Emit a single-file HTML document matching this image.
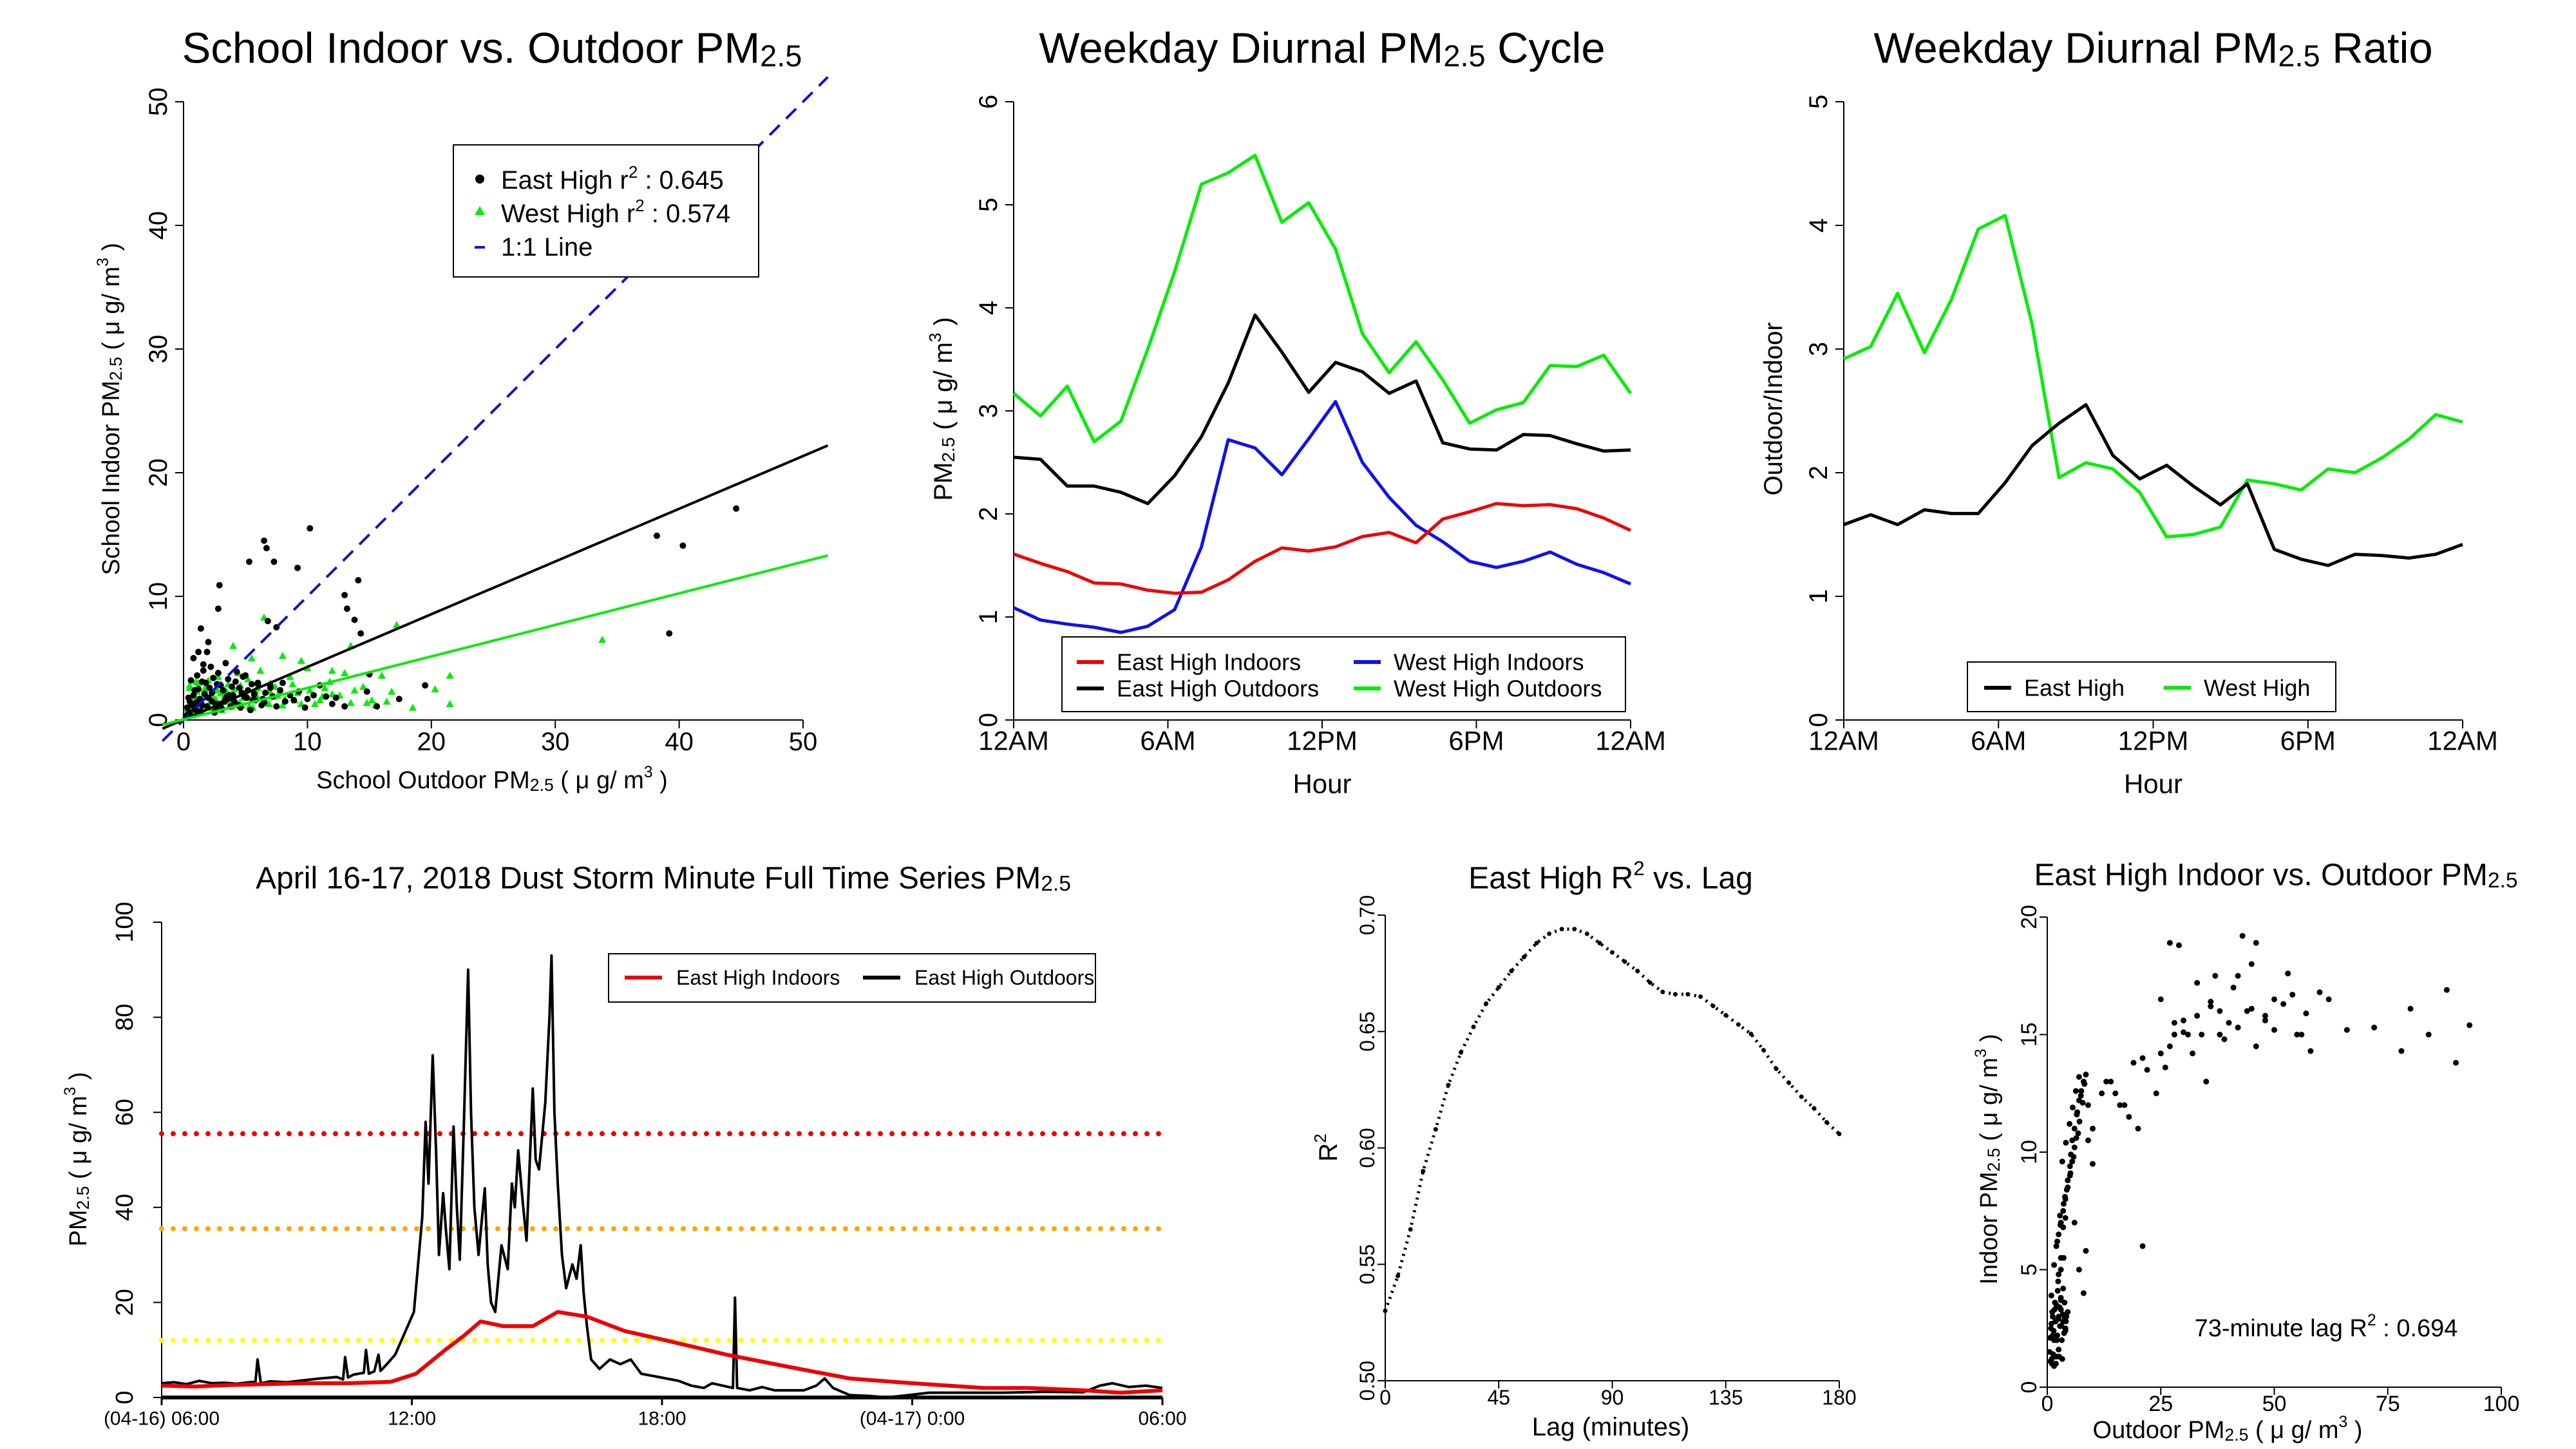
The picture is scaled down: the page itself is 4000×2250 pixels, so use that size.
<!DOCTYPE html>
<html><head><meta charset="utf-8"><style>
html,body{margin:0;padding:0;background:#fff}
svg{display:block}
text{font-family:"Liberation Sans",sans-serif;fill:#000}
.n{font-family:"Liberation Sans Narrow","Liberation Sans",sans-serif}
</style></head><body>
<svg id="s" xmlns="http://www.w3.org/2000/svg" width="4000" height="2250" viewBox="0 0 4000 2250">
<rect width="4000" height="2250" fill="#fff"/>
</svg>
<script>
// ---------- DATA ----------
const p1EastX=[0.3,0.5,0.8,1,1.2,1.5,1.8,2,2.3,2.6,3,3.3,3.6,4,4.4,4.8,5.2,5.6,6,6.5,7,7.5,8,8.6,9.3,10,11,12,0.6,1.1,1.6,2.2,2.8,3.4,4.2,5,6,7,0.4,0.9,1.4,2.5,3.1,3.8,4.6,5.4,6.3,8.2,9.8,11.5,13,15,15.6,5.3,6.5,6.7,7.3,9.2,10.2,2.9,2.8,13,13.2,13.8,14.1,14.3,38.2,40.3,44.6,39.2,19.5,17.4,1.4,2,1.9,1.2,6.8,7.5,0.8,1.6,
 0.2,0.5,0.7,1.3,1.7,2.1,2.4,2.7,3.2,3.5,3.9,4.3,4.7,5.1,5.8,6.6,7.2,0.9,1.5,2.3,3.0,3.7,4.5,5.5,0.4,1.0,1.9,2.6,3.4,4.1,4.9,5.7,6.4,7.8,8.9,10.5,12.3,14.8];
const p1EastY=[1,1.5,2,0.8,2.5,1.2,3,1.8,2.2,1,2.8,1.5,3.3,2,1.2,3.5,2.4,1.6,2.9,1.4,2.6,1.1,3,2,2.3,1.7,2.8,1.3,3.2,3.6,4,4.3,3.8,4.6,3.1,3.6,3,2.8,0.5,0.9,0.7,0.6,0.9,1.1,1,0.8,1.2,1.5,1,1.9,1.1,3.7,1.1,12.8,14.5,13.9,12.8,12.3,15.5,10.9,9,10.1,9,8.1,11.3,7,14.9,14.1,17.1,7,2.8,1.7,7.4,6.3,5.5,5.5,8,7.5,5,4.5,
 0.3,0.6,1.2,1.7,2.1,2.6,3.4,2.9,2.4,1.9,2.7,3.9,2.2,1.8,1.6,2.2,1.9,2.4,3.1,1.5,1.3,2.0,2.6,2.9,1.8,1.4,1.1,1.3,1.7,1.5,1.9,2.1,1.7,2.4,1.6,2.0,1.8,2.3];
const p1WestX=[0.2,0.4,0.7,1,1.3,1.6,1.9,2.2,2.5,2.9,3.3,3.7,4.1,4.5,5,5.5,6,6.5,7,7.6,8.2,8.8,9.5,10.2,11,11.8,12.6,13.5,14.5,15.5,16.4,0.5,1.2,2,2.8,3.6,4.4,5.2,6.2,7.4,8.6,10,11.4,13,14.8,33.8,21.5,21.5,18.5,17.2,6.5,20.3,13.5,4,5.5,8,9.5,12,16,
 0.3,0.6,0.9,1.1,1.4,1.7,2.0,2.3,2.6,3.0,3.4,3.8,4.2,4.8,5.3,5.9,6.7,7.3,8.0,9.0,10.6,12.0,0.8,1.5,2.4,3.1,3.9,4.7,5.6,6.9,0.5,1.0,1.8,2.7,3.5,4.6,5.8,7.0,9.2,11.2,13.8,15.2,16.8];
const p1WestY=[0.5,1,0.8,1.5,1.2,2,1,1.8,2.4,1.3,2,1.6,2.5,1.4,2.2,1.8,2.6,1.5,2.3,2,1.7,2.9,1.3,2.4,1.6,3.1,2,1.4,2.7,1.2,1.5,2.6,3,3.2,3.5,2.9,3.8,3.3,4,2.7,3.5,4.2,2.6,3.8,1.4,6.5,3.6,1.3,1,7.7,8.3,2.5,6,6,5,5.2,4.8,4,3.6,
 0.9,1.4,1.9,2.3,1.6,2.5,1.2,2.0,1.7,2.2,1.5,1.9,1.3,1.8,1.1,2.0,1.4,1.9,1.2,1.6,1.3,2.1,0.6,0.9,1.0,0.8,1.1,1.2,1.0,1.3,2.8,3.1,2.7,2.5,2.3,2.8,2.4,3.0,2.2,1.9,2.4,1.6,2.3];

const hours=[0,1,2,3,4,5,6,7,8,9,10,11,12,13,14,15,16,17,18,19,20,21,22,23];
const ehIn =[1.61,1.52,1.44,1.33,1.32,1.26,1.23,1.24,1.36,1.54,1.67,1.64,1.68,1.78,1.82,1.72,1.95,2.02,2.10,2.08,2.09,2.05,1.96,1.84];
const ehOut=[2.55,2.53,2.27,2.27,2.21,2.10,2.37,2.75,3.27,3.93,3.57,3.18,3.47,3.38,3.17,3.29,2.69,2.63,2.62,2.77,2.76,2.68,2.61,2.62];
const whIn =[1.09,0.97,0.93,0.90,0.85,0.91,1.07,1.68,2.72,2.64,2.38,2.73,3.09,2.50,2.16,1.89,1.73,1.54,1.48,1.54,1.63,1.51,1.43,1.32];
const whOut=[3.17,2.95,3.24,2.70,2.90,3.60,4.35,5.20,5.31,5.48,4.83,5.02,4.57,3.75,3.37,3.67,3.30,2.88,3.01,3.08,3.44,3.43,3.54,3.17];
const ratioEast=[1.58,1.66,1.58,1.70,1.67,1.67,1.92,2.22,2.40,2.55,2.14,1.95,2.06,1.89,1.74,1.91,1.38,1.30,1.25,1.34,1.33,1.31,1.34,1.42];
const ratioWest=[2.92,3.02,3.45,2.97,3.40,3.97,4.08,3.20,1.96,2.08,2.03,1.84,1.48,1.50,1.56,1.94,1.91,1.86,2.03,2.00,2.12,2.27,2.47,2.41];

// hours since 04-16 06:00
const tsOutT=[0,0.3,0.6,0.9,1.2,1.5,1.8,2.1,2.25,2.3,2.38,2.6,3.0,3.4,3.8,4.2,4.35,4.4,4.47,4.6,4.85,4.9,4.97,5.1,5.2,5.25,5.4,5.6,5.75,5.9,6.05,6.15,6.25,6.33,6.4,6.5,6.58,6.65,6.75,6.82,6.9,7.0,7.08,7.15,7.25,7.35,7.42,7.5,7.6,7.75,7.82,7.9,8.0,8.15,8.3,8.4,8.47,8.55,8.65,8.75,8.9,8.97,9.05,9.2,9.3,9.35,9.42,9.5,9.6,9.7,9.85,9.95,10.05,10.12,10.2,10.3,10.5,10.75,11.0,11.25,11.5,11.8,12.1,12.4,12.7,13.0,13.2,13.45,13.7,13.75,13.8,14.1,14.4,14.7,15.0,15.4,15.7,15.9,16.1,16.5,17.0,17.4,17.9,18.4,19.3,20.2,21.2,22.1,22.5,22.8,23.2,23.6,24];
const tsOutV=[3,3.2,2.8,3.5,3,3.1,2.9,3.2,3.3,8,3,3.4,3.2,3.6,4,4.3,3.8,8.5,4.2,4.8,5.2,10,5,5.5,9,5.6,7,9,12,15,18,28,38,58,45,72,52,30,43,35,27,57,40,29,58,90,60,40,30,44,28,20,18,32,27,45,40,52,42,33,65,50,48,62,80,93,60,45,30,23,28,25,32,22,15,8,6,8,7,8,5,4.5,4,3.5,2.5,2,3,2.5,2,21,2,1.5,2.2,1.5,1.5,1.5,2.5,4,2,0.5,0.3,0,0.5,1,1,1,1.2,1.1,2.5,3,2.2,2.5,2];
const tsInT=[0,0.8,1.6,2.5,3.5,4.5,5.5,6.1,6.8,7.25,7.65,8.2,8.9,9.5,10.2,11.1,12.1,13.55,15,16.5,18,19.7,20.8,22.1,23,24];
const tsInV=[2.5,2.3,2.6,2.8,3,3,3.3,5,10,13,16,15,15,18,17,14,12,9,6.5,4,3,2,2,1.5,1,1.5];
const aqiLevels=[55.5,35.5,12];

const lagMin=[0,5,10,15,20,25,30,35,40,45,50,55,60,65,70,75,80,85,90,95,100,105,110,115,120,125,130,135,140,145,150,155,160,165,170,175,180];
const lagR2=[0.530,0.545,0.565,0.590,0.608,0.627,0.641,0.652,0.662,0.669,0.676,0.682,0.688,0.692,0.694,0.694,0.692,0.688,0.684,0.680,0.676,0.671,0.667,0.666,0.666,0.665,0.661,0.657,0.653,0.649,0.642,0.634,0.628,0.622,0.617,0.611,0.606];

const scOutX=[0.5,0.8,1.0,1.2,1.5,1.8,2.0,2.2,2.5,2.8, 3.0,3.2,3.5,3.8,4.0,4.2,4.5,1.0,1.5,2.0, 2.5,3.0,3.5,4.0,1.2,1.8,2.4,3.0,3.6,2.0, 2.5,3.0,3.5,4.0,4.5,5.0,5.5,6.0,2.5,3.0,
 3.5,4.0,4.5,5.0,5.5,6.0,6.5,7.0,7.5,8.0, 8.5,9.0,6.0,7.0,8.0,9.0,10,12,14,16, 18,20,22,10,13,15,17,19,21,24, 25,26,27,28,30,32,34,36,38,40,
 42,44,46,48,50,52,55,58,60,25, 28,31,35,38,41,45,50,56,62,66, 72,78,80,84,88,90,93,27,29,33, 37,43,46,53,21,0.6,0.9,1.1,1.4,1.7,
 2.1,2.4,2.7,3.1,3.4,3.7,4.1,0.7,1.3,1.9, 2.6,3.3,0.9,1.6,2.3,3.0,3.8,1.5,2.2,2.9, 3.6,4.3,5.1,5.8,6.4,7.1,7.8,3.3,4.1,4.9, 5.6,6.3,7.0,2.8,3.9,5.2,6.6,8.2,6.8,7.4, 30,33,36,39,42,45,48,54,57,8.5];
const scOutY=[1.5,2.5,1.0,3.0,2.0,2.8,3.5,2.2,3.0,2.6, 3.3,2.0,2.8,3.6,2.4,3.0,3.2,1.2,0.9,1.3, 1.6,3.8,4.2,2.5,2.2,2.8,4.5,5.0,5.5,6.0, 6.5,7.0,7.5,8.0,8.5,9.0,9.6,10.2,4.8,5.5,
 6.8,7.2,8.8,9.4,10.5,11.0,11.6,12.2,12.6,13.0, 13.3,10.5,7.0,5.0,4.0,12.0,11.0,12.5,13.0,12.0, 11.5,11.0,13.5,9.5,13.0,12.5,12.0,13.8,14.0,12.5, 14.2,13.6,14.5,15.0,15.6,14.2,15.0,16.2,15.0,15.5,
 17.5,16.0,14.5,15.8,15.2,16.3,15.0,14.3,16.8,16.5, 15.5,15.0,13.0,16.0,17.0,18.0,16.5,15.0,16.5,15.2, 15.3,14.3,16.1,15.0,16.9,13.8,15.4,18.9,18.8,17.2, 17.5,19.2,18.9,17.6,6.0,2.1,2.7,3.2,2.4,3.6,
 2.0,2.9,3.4,2.6,3.1,2.3,2.8,1.1,1.4,1.0, 1.3,1.2,3.9,3.3,4.1,3.7,2.9,5.2,6.2,6.9, 7.8,8.4,9.1,9.8,10.6,11.3,12.1,9.6,10.4,11.2, 11.9,12.6,13.2,7.3,8.1,9.9,11.7,12.9,10.8,12.4, 15.1,15.8,16.4,14.8,15.3,16.1,15.6,16.7,15.9,5.8];

// ---------- HELPERS ----------
const S=document.getElementById('s');
const NS='http://www.w3.org/2000/svg';
function el(tag,attrs,parent){const e=document.createElementNS(NS,tag);for(const k in attrs)e.setAttribute(k,attrs[k]);(parent||S).appendChild(e);return e;}
function txt(x,y,str,size,opts){opts=opts||{};const t=el('text',{x:x,y:y,'font-size':size,'text-anchor':opts.anchor||'middle','dominant-baseline':'central'});
 if(opts.cls)t.setAttribute('class',opts.cls);if(opts.rot)t.setAttribute('transform','rotate('+opts.rot+' '+x+' '+y+')');
 if(opts.fill)t.setAttribute('fill',opts.fill);t.innerHTML=str;return t;}
function scale(d0,d1,r0,r1){return v=>r0+(v-d0)*(r1-r0)/(d1-d0);}
function poly(xs,ys,fx,fy,color,w,dash){const pts=xs.map((x,i)=>fx(x).toFixed(1)+','+fy(ys[i]).toFixed(1)).join(' ');
 const p=el('polyline',{points:pts,fill:'none',stroke:color,'stroke-width':w,'stroke-linejoin':'round'});if(dash)p.setAttribute('stroke-dasharray',dash);return p;}
const sub='<tspan font-size="70%" baseline-shift="-25%">2.5</tspan>';
const sup=s=>'<tspan font-size="65%" baseline-shift="50%">'+s+'</tspan>';

// ---------- PANEL 1 ----------
{const fx=scale(0,50,285,1247),fy=scale(0,50,1118,158);
 let t=txt(764,75,'School Indoor vs. Outdoor PM'+sub,67);
 
 
 el('line',{x1:285,y1:158,x2:285,y2:1118,stroke:'#000','stroke-width':2});
 el('line',{x1:285,y1:1118,x2:1247,y2:1118,stroke:'#000','stroke-width':2});
 [0,10,20,30,40,50].forEach(v=>{el('line',{x1:285,y1:fy(v),x2:272,y2:fy(v),stroke:'#000','stroke-width':2});
  txt(246,fy(v),v,40,{rot:-90});
  el('line',{x1:fx(v),y1:1118,x2:fx(v),y2:1131,stroke:'#000','stroke-width':2});txt(fx(v),1152,v,40);});
 txt(764,1212,'School Outdoor PM'+sub+' ( μ g/ m'+sup('3')+' )',38);
 txt(173,635,'School Indoor PM'+sub+' ( μ g/ m'+sup('3')+' )',38,{rot:-90});
 p1WestX.forEach((x,i)=>{const cx=fx(x),cy=fy(p1WestY[i]);const m=el('polygon',{points:(cx)+','+(cy-6)+' '+(cx-6)+','+(cy+5)+' '+(cx+6)+','+(cy+5),fill:'#00ee00'});
  
  });
 p1EastX.forEach((x,i)=>{const m=el('circle',{cx:fx(x),cy:fy(p1EastY[i]),r:5,fill:'#000'});
  
  });
 let l=el('line',{x1:fx(-1.7),y1:fy(-1.7),x2:fx(52),y2:fy(52),stroke:'#1010dd','stroke-width':4,'stroke-dasharray':'22,14'});
 
 
 l=el('line',{x1:fx(-1.7),y1:fy(-0.7),x2:fx(52),y2:fy(22.2),stroke:'#000','stroke-width':4});
 
 
 l=el('line',{x1:fx(-1.7),y1:fy(-0.4),x2:fx(52),y2:fy(13.3),stroke:'#00ee00','stroke-width':4});
 
 
 const g=el('g',{});
 
 
 el('rect',{x:704,y:225,width:474,height:205,fill:'#fff',stroke:'#000','stroke-width':2},g);
 el('circle',{cx:745,cy:278,r:7,fill:'#000'},g);
 el('polygon',{points:'745,320 737,334 753,334',fill:'#00ee00'},g);
 el('line',{x1:737,y1:384,x2:753,y2:384,stroke:'#1010dd','stroke-width':4},g);
 g.appendChild(txt(778,280,'East High r'+sup('2')+'  : 0.645',40,{anchor:'start'}));
 g.appendChild(txt(778,332,'West High r'+sup('2')+' : 0.574',40,{anchor:'start'}));
 g.appendChild(txt(778,384,'1:1 Line',40,{anchor:'start'}));
}

// ---------- PANEL 2 & 3 ----------
function hourAxes(x0,x1,ymax,title,ylab,dn){const fx=scale(0,24,x0,x1),fy=scale(0,ymax,1118,158);
 let t=txt((x0+x1)/2,75,title,67,{cls:'n'});
 
 
 el('line',{x1:x0,y1:158,x2:x0,y2:1118,stroke:'#000','stroke-width':2});
 el('line',{x1:x0,y1:1118,x2:x1,y2:1118,stroke:'#000','stroke-width':2});
 for(let v=0;v<=ymax;v++){el('line',{x1:x0,y1:fy(v),x2:x0-13,y2:fy(v),stroke:'#000','stroke-width':2});txt(x0-39,fy(v),v,40,{rot:-90});}
 ['12AM','6AM','12PM','6PM','12AM'].forEach((s,i)=>{const x=fx(i*6);el('line',{x1:x,y1:1118,x2:x,y2:1131,stroke:'#000','stroke-width':2});txt(x,1150,s,42,{cls:'n'});});
 txt((x0+x1)/2,1217,'Hour',42,{cls:'n'});
 txt(x0-109,635,ylab,40,{rot:-90});
 return {fx:h=>fx(h*24/23),fy};}
{const a=hourAxes(1574,2532,6,'Weekday Diurnal PM'+sub+' Cycle','PM'+sub+' ( μ g/ m'+sup('3')+' )','cycle');
 [[whOut,'#00ee00','west-outdoors-line'],[ehOut,'#000','east-outdoors-line'],[whIn,'#1010ee','west-indoors-line'],[ehIn,'#ee0000','east-indoors-line']].forEach(s=>{
  const p=poly(hours,s[0],a.fx,a.fy,s[1],5);
  
  });
 const g=el('g',{});
 
 
 el('rect',{x:1649,y:989,width:875,height:116,fill:'#fff',stroke:'#000','stroke-width':2},g);
 [[1672,1028,'#ee0000','East High Indoors'],[1672,1069,'#000','East High Outdoors'],[2102,1028,'#1010ee','West High Indoors'],[2102,1069,'#00ee00','West High Outdoors']].forEach(e=>{
  el('line',{x1:e[0],y1:e[1],x2:e[0]+42,y2:e[1],stroke:e[2],'stroke-width':6},g);
  g.appendChild(txt(e[0]+62,e[1],e[3],36,{anchor:'start',cls:'n'}));});
}
{const a=hourAxes(2863,3824,5,'Weekday Diurnal PM'+sub+' Ratio','Outdoor/Indoor','ratio');
 [[ratioWest,'#00ee00','west-ratio-line'],[ratioEast,'#000','east-ratio-line']].forEach(s=>{
  const p=poly(hours,s[0],a.fx,a.fy,s[1],5);
  
  });
 const g=el('g',{});
 
 
 el('rect',{x:3055,y:1028,width:572,height:77,fill:'#fff',stroke:'#000','stroke-width':2},g);
 el('line',{x1:3081,y1:1068,x2:3123,y2:1068,stroke:'#000','stroke-width':6},g);
 g.appendChild(txt(3143,1068,'East High',36,{anchor:'start',cls:'n'}));
 el('line',{x1:3360,y1:1068,x2:3402,y2:1068,stroke:'#00ee00','stroke-width':6},g);
 g.appendChild(txt(3422,1068,'West High',36,{anchor:'start',cls:'n'}));
}

// ---------- PANEL 4 ----------
{const fx=scale(0,24,251,1805),fy=scale(0,100,2170,1432);
 let t=txt(1030,1364,'April 16-17, 2018 Dust Storm Minute Full Time Series PM'+sub,48,{cls:'n'});
 
 
 el('line',{x1:251,y1:1432,x2:251,y2:2170,stroke:'#000','stroke-width':2});
 [0,20,40,60,80,100].forEach(v=>{el('line',{x1:251,y1:fy(v),x2:238,y2:fy(v),stroke:'#000','stroke-width':2});txt(194,fy(v),v,38,{rot:-90});});
 ['(04-16) 06:00','12:00','18:00','(04-17) 0:00','06:00'].forEach((s,i)=>{const x=fx(i*6);el('line',{x1:x,y1:2170,x2:x,y2:2182,stroke:'#000','stroke-width':3});txt(x,2203,s,30,{cls:'n'});});
 txt(122,1800,'PM'+sub+' ( μ g/ m'+sup('3')+' )',38,{rot:-90});
 const cols=['#ee0000','#ffa500','#ffff00'];
 aqiLevels.forEach((v,i)=>{const l=el('line',{x1:251,y1:fy(v),x2:1805,y2:fy(v),stroke:cols[i],'stroke-width':8,'stroke-dasharray':'0,18','stroke-linecap':'round'});
  
  });
 let p=poly(tsOutT,tsOutV,fx,fy,'#000',4);
 
 
 p=poly(tsInT,tsInV,fx,fy,'#ee0000',6);
 
 
 el('line',{x1:251,y1:2170,x2:1805,y2:2170,stroke:'#000','stroke-width':6});
 const g=el('g',{});
 
 
 el('rect',{x:945,y:1481,width:756,height:75,fill:'#fff',stroke:'#000','stroke-width':2},g);
 el('line',{x1:970,y1:1518,x2:1028,y2:1518,stroke:'#ee0000','stroke-width':6},g);
 g.appendChild(txt(1050,1518,'East High Indoors',32,{anchor:'start',cls:'n'}));
 el('line',{x1:1340,y1:1518,x2:1398,y2:1518,stroke:'#000','stroke-width':6},g);
 g.appendChild(txt(1420,1518,'East High Outdoors',32,{anchor:'start',cls:'n'}));
}

// ---------- PANEL 5 ----------
{const fx=scale(0,180,2151,2856),fy=scale(0.5,0.7,2144,1421);
 let t=txt(2501,1364,'East High R'+sup('2')+' vs. Lag',48,{cls:'n'});
 
 
 el('line',{x1:2151,y1:1421,x2:2151,y2:2144,stroke:'#000','stroke-width':2});
 el('line',{x1:2151,y1:2144,x2:2856,y2:2144,stroke:'#000','stroke-width':2});
 [0.5,0.55,0.6,0.65,0.7].forEach(v=>{el('line',{x1:2151,y1:fy(v),x2:2139,y2:fy(v),stroke:'#000','stroke-width':2});txt(2123,fy(v),v.toFixed(2),32,{rot:-90});});
 [0,45,90,135,180].forEach(v=>{el('line',{x1:fx(v),y1:2144,x2:fx(v),y2:2156,stroke:'#000','stroke-width':2});txt(fx(v),2170,v,32,{cls:'n'});});
 txt(2501,2216,'Lag (minutes)',40,{cls:'n'});
 txt(2063,1782,'R'+sup('2'),40,{rot:-90});
 const p=poly(lagMin,lagR2,fx,fy,'#000',5,'3,7');
 
 
 lagMin.forEach((m,i)=>{const c=el('circle',{cx:fx(m),cy:fy(lagR2[i]),r:3.5,fill:'#000'});
  
  });
}

// ---------- PANEL 6 ----------
{const fx=scale(0,100,3179,3884),fy=scale(0,20,2154,1424);
 let t=txt(3534,1359,'East High Indoor vs. Outdoor PM'+sub,48,{cls:'n'});
 
 
 el('line',{x1:3179,y1:1424,x2:3179,y2:2154,stroke:'#000','stroke-width':2});
 el('line',{x1:3179,y1:2154,x2:3884,y2:2154,stroke:'#000','stroke-width':2});
 [0,5,10,15,20].forEach(v=>{el('line',{x1:3179,y1:fy(v),x2:3167,y2:fy(v),stroke:'#000','stroke-width':2});txt(3151,fy(v),v,34,{rot:-90});});
 [0,25,50,75,100].forEach(v=>{el('line',{x1:fx(v),y1:2154,x2:fx(v),y2:2166,stroke:'#000','stroke-width':2});txt(fx(v),2180,v,34,{cls:'n'});});
 txt(3459,2221,'Outdoor PM'+sub+' ( μ g/ m'+sup('3')+' )',38,{cls:'n'});
 txt(3089,1800,'Indoor PM'+sub+' ( μ g/ m'+sup('3')+' )',38,{rot:-90});
 scOutX.forEach((x,i)=>{const c=el('circle',{cx:fx(x),cy:fy(scOutY[i]),r:4.5,fill:'#000'});
  
  });
 t=txt(3612,2063,'73-minute lag R'+sup('2')+' : 0.694',38,{cls:'n'});
 
 
}
</script>
</body></html>
